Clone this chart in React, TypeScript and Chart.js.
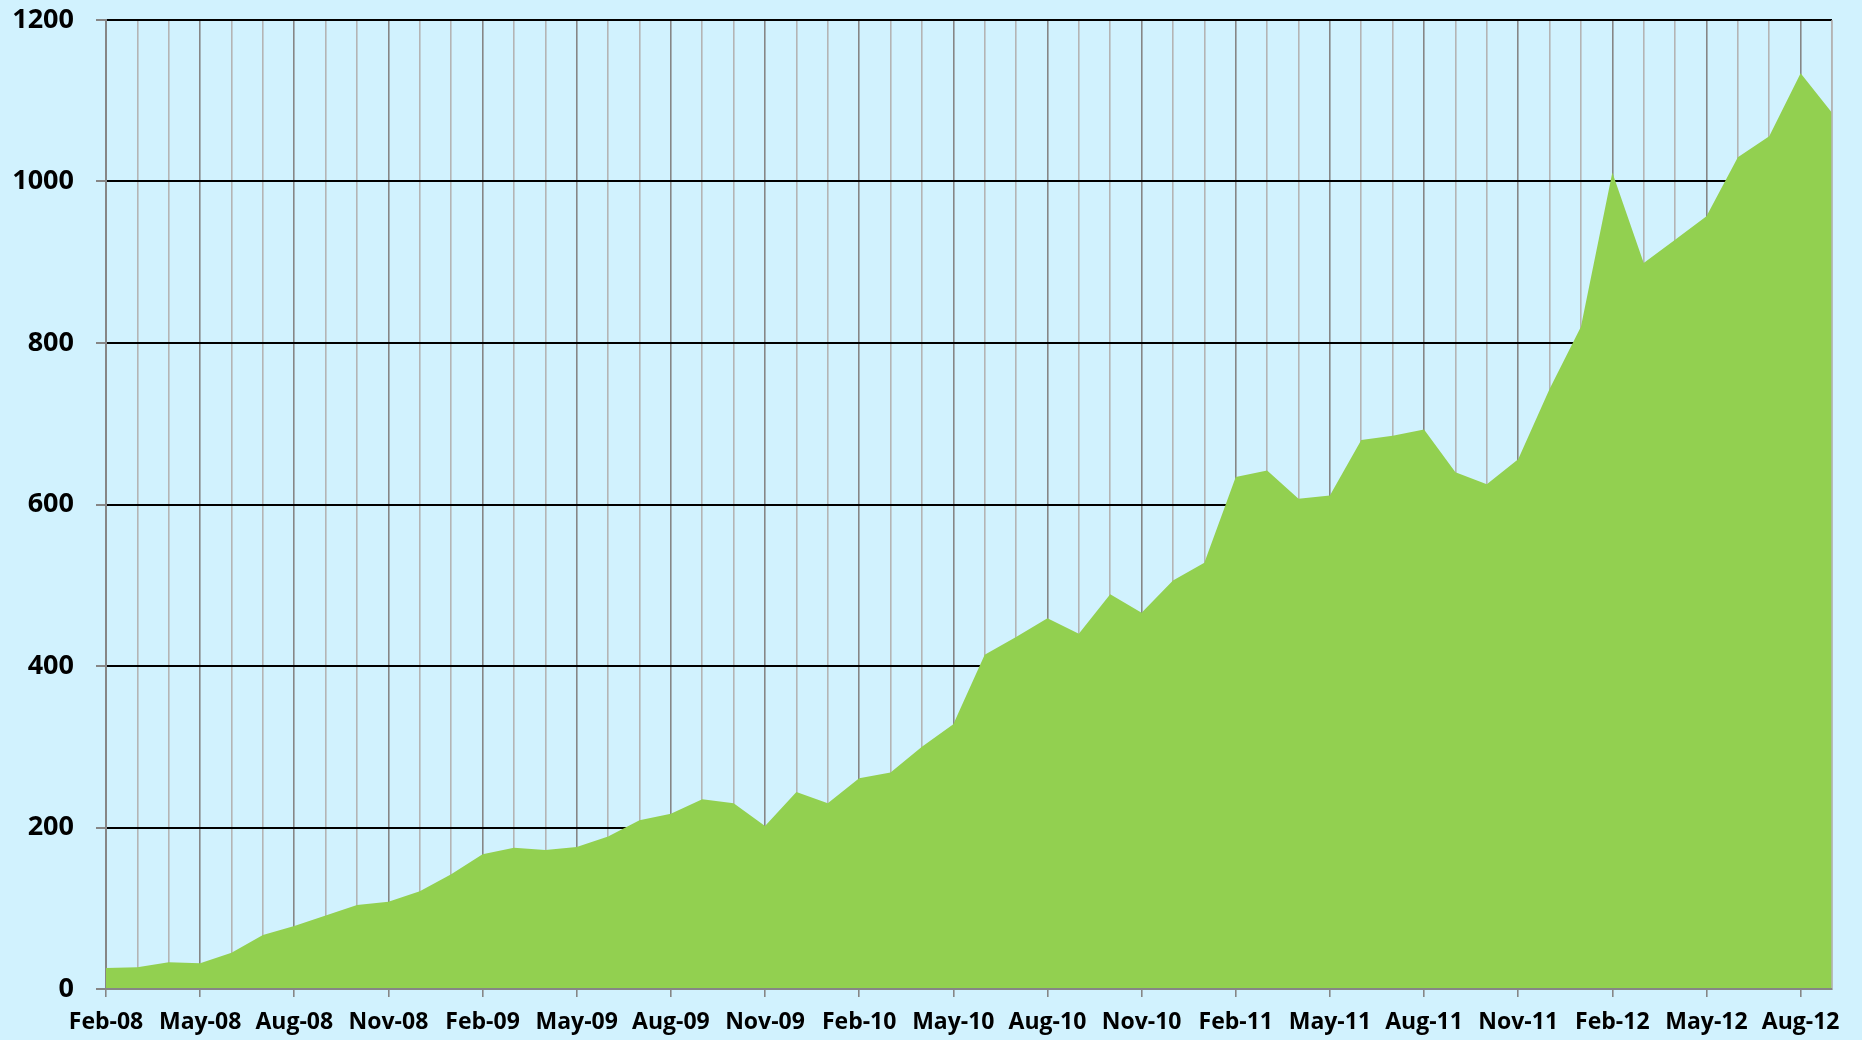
import React, { useEffect, useRef } from "react";
import { Chart, registerables } from "chart.js";

Chart.register(...registerables);

const months: string[] = [
  "Feb-08", "Mar-08", "Apr-08", "May-08", "Jun-08", "Jul-08", "Aug-08", "Sep-08", "Oct-08", "Nov-08", "Dec-08",
  "Jan-09", "Feb-09", "Mar-09", "Apr-09", "May-09", "Jun-09", "Jul-09", "Aug-09", "Sep-09", "Oct-09", "Nov-09", "Dec-09",
  "Jan-10", "Feb-10", "Mar-10", "Apr-10", "May-10", "Jun-10", "Jul-10", "Aug-10", "Sep-10", "Oct-10", "Nov-10", "Dec-10",
  "Jan-11", "Feb-11", "Mar-11", "Apr-11", "May-11", "Jun-11", "Jul-11", "Aug-11", "Sep-11", "Oct-11", "Nov-11", "Dec-11",
  "Jan-12", "Feb-12", "Mar-12", "Apr-12", "May-12", "Jun-12", "Jul-12", "Aug-12", "Sep-12",
];

const values: number[] = [
  26, 27, 33, 32, 45, 67, 78, 91, 104, 108, 121,
  142, 167, 175, 172, 176, 189, 209, 217, 235, 230, 202, 244,
  230, 261, 268, 300, 328, 414, 436, 459, 440, 489, 466, 506,
  528, 634, 642, 607, 611, 680, 685, 693, 640, 625, 656, 743,
  820, 1011, 899, 928, 957, 1030, 1056, 1134, 1085,
];

const yTicks: number[] = [0, 200, 400, 600, 800, 1000, 1200];

const BG = "#D1F2FE";
const FILL = "#92D050";
const AXIS_GRAY = "#868686";
const LIGHT_GRAY = "#B4B4B4";
const FONT = "'Open Sans', Lato, sans-serif";

const axisOverlay = {
  id: "axisOverlay",
  afterDatasetsDraw(chart: any) {
    const { ctx, chartArea } = chart;
    ctx.save();
    ctx.strokeStyle = LIGHT_GRAY;
    ctx.lineWidth = 1.5;
    ctx.beginPath();
    ctx.moveTo(chartArea.right, chartArea.top);
    ctx.lineTo(chartArea.right, chartArea.bottom);
    ctx.stroke();
    ctx.strokeStyle = AXIS_GRAY;
    ctx.lineWidth = 2;
    ctx.beginPath();
    ctx.moveTo(chartArea.left, chartArea.bottom);
    ctx.lineTo(chartArea.right, chartArea.bottom);
    ctx.stroke();
    ctx.restore();
  },
};

export default function App() {
  const ref = useRef<HTMLCanvasElement | null>(null);

  useEffect(() => {
    if (!ref.current) return;
    const chart = new Chart(ref.current, {
      type: "line",
      data: {
        labels: months,
        datasets: [
          {
            data: values,
            fill: "origin",
            backgroundColor: FILL,
            borderWidth: 0,
            borderColor: FILL,
            pointRadius: 0,
            tension: 0,
          },
        ],
      },
      options: {
        responsive: false,
        animation: false,
        layout: { padding: { top: 20, right: 30, bottom: 0, left: 0 } },
        plugins: {
          legend: { display: false },
          tooltip: { enabled: false },
        },
        scales: {
          x: {
            type: "category",
            offset: false,
            afterFit: (scale: any) => {
              scale.height = 51;
            },
            grid: {
              color: (c: any) => (c.index % 3 === 0 ? AXIS_GRAY : LIGHT_GRAY),
              tickColor: (c: any) => (c.index % 3 === 0 ? AXIS_GRAY : "rgba(0,0,0,0)"),
              lineWidth: 1.6,
              tickLength: 8,
            },
            border: { display: true, color: AXIS_GRAY, width: 2 },
            ticks: {
              autoSkip: false,
              maxRotation: 0,
              minRotation: 0,
              padding: 12,
              color: "#000",
              font: { family: FONT, size: 23, weight: "bold" },
              callback: (_v: any, i: number) => (i % 3 === 0 ? months[i] : ""),
            },
          },
          y: {
            min: 0,
            max: 1200,
            afterFit: (scale: any) => {
              scale.width = 106;
              scale.paddingTop = 0;
              scale.paddingBottom = 0;
            },
            afterBuildTicks: (scale: any) => {
              scale.ticks = yTicks.map((v) => ({ value: v }));
            },
            grid: {
              color: (c: any) => (c.index === 0 ? AXIS_GRAY : "#000000"),
              tickColor: AXIS_GRAY,
              lineWidth: 2,
              tickLength: 10,
            },
            border: { display: true, color: AXIS_GRAY, width: 2 },
            ticks: {
              padding: 22,
              color: "#000",
              font: { family: FONT, size: 27, weight: "bold" },
              callback: (v: any) => String(v),
            },
          },
        },
      },
      plugins: [axisOverlay],
    });
    return () => chart.destroy();
  }, []);

  return (
    <div
      style={{
        position: "fixed",
        left: 0,
        top: 0,
        width: 1862,
        height: 1040,
        background: BG,
      }}
    >
      <canvas ref={ref} width={1862} height={1040} style={{ display: "block" }} />
    </div>
  );
}
